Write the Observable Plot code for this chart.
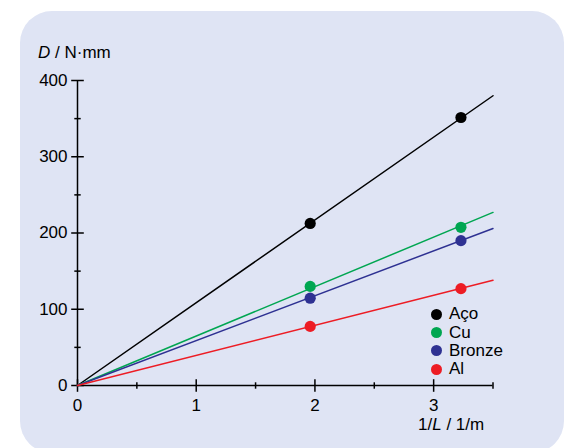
<!DOCTYPE html>
<html>
<head>
<meta charset="utf-8">
<script src="https://cdn.jsdelivr.net/npm/d3@7"></script>
<script src="https://cdn.jsdelivr.net/npm/@observablehq/plot@0.6"></script>
<style>
  html, body { margin: 0; padding: 0; background: #ffffff; }
  #wrap { position: relative; width: 570px; height: 448px; overflow: hidden;
          font-family: "Liberation Sans", Arial, sans-serif; color: #000; }
  #panel { position: absolute; left: 20px; top: 11px; width: 544px; height: 442px;
           border-radius: 32px; background: #dfe4f4; }
  #chart { position: absolute; left: 0; top: 0; }
  .title { position: absolute; font-size: 17px; line-height: 1; white-space: nowrap; }
  #legend { position: absolute; left: 431px; top: 305px; font-size: 17px; }
  .row { display: flex; align-items: center; height: 18.4px; }
  .sw { width: 11px; height: 11px; border-radius: 50%; margin-right: 7px; }
</style>
</head>
<body>
<div id="wrap">
  <div id="panel"></div>
  <div id="chart"></div>
  <div class="title" style="left:38px; top:43.5px;"><i>D</i> / N·mm</div>
  <div class="title" style="left:418px; top:415.5px;">1/<i>L</i> / 1/m</div>
  <div id="legend"></div>
</div>
<script>
// ---- data ----
const seriesNames = ["Aço", "Cu", "Bronze", "Al"];
const seriesColors = ["#000000", "#00a651", "#2e3192", "#ed1c24"];
const xMeasured = [1.96, 3.23];          // 1/L (1/m)
const acoValues = [212.5, 351.5];        // D (N·mm)
const cuValues = [130, 207.5];
const bronzeValues = [114.5, 190];
const alValues = [77.5, 127];
const fitX = [0, 3.5];                    // fitted lines run from origin to x = 3.5
const fitStartValues = [0, 0, 0, 0];
const fitEndValues = [380, 227, 206, 138];
const xMajorTicks = [0, 1, 2, 3];
const xMinorTicks = [0.5, 1.5, 2.5, 3.5];
const yMajorTicks = [0, 100, 200, 300, 400];
const yMinorTicks = [50, 150, 250, 350];

// ---- build tables ----
const seriesValues = [acoValues, cuValues, bronzeValues, alValues];
const points = seriesNames.flatMap((s, i) =>
  xMeasured.map((x, j) => ({ s, x, y: seriesValues[i][j] })));
const lines = seriesNames.flatMap((s, i) => [
  { s, x: fitX[0], y: fitStartValues[i] },
  { s, x: fitX[1], y: fitEndValues[i] }
]);

const vbar = { draw(ctx, size) { const r = Math.sqrt(size / Math.PI); ctx.moveTo(0, -r); ctx.lineTo(0, r); } };
const hbar = { draw(ctx, size) { const r = Math.sqrt(size / Math.PI); ctx.moveTo(-r, 0); ctx.lineTo(r, 0); } };

const xDomain = [0, xMinorTicks[xMinorTicks.length - 1]];
const yDomain = [0, yMajorTicks[yMajorTicks.length - 1]];

const chart = Plot.plot({
  width: 570,
  height: 448,
  marginLeft: 77,
  marginRight: 77.5,
  marginTop: 80,
  marginBottom: 63,
  x: { domain: xDomain, axis: null },
  y: { domain: yDomain, axis: null },
  color: { domain: seriesNames, range: seriesColors },
  style: { background: "transparent", fontFamily: "Liberation Sans, Arial, sans-serif", color: "#000", overflow: "visible" },
  marks: [
    // axis lines
    Plot.ruleY([yDomain[0]], { x1: xDomain[0], x2: xDomain[1], stroke: "#000", strokeWidth: 1.5 }),
    Plot.ruleX([xDomain[0]], { y1: yDomain[0], y2: yDomain[1], stroke: "#000", strokeWidth: 1.5 }),
    // crossing ticks
    Plot.dot(xMajorTicks, { x: d => d, y: () => 0, symbol: vbar, r: 6.3, stroke: "#000", fill: "none", strokeWidth: 1.5 }),
    Plot.dot(xMinorTicks, { x: d => d, y: () => 0, symbol: vbar, r: 3.2, stroke: "#000", fill: "none", strokeWidth: 1.5 }),
    Plot.dot(yMajorTicks, { x: () => 0, y: d => d, symbol: hbar, r: 6.3, stroke: "#000", fill: "none", strokeWidth: 1.5 }),
    Plot.dot(yMinorTicks, { x: () => 0, y: d => d, symbol: hbar, r: 3.2, stroke: "#000", fill: "none", strokeWidth: 1.5 }),
    // tick labels
    Plot.text(xMajorTicks, { x: d => d, y: () => 0, dy: 20, text: d => String(d), fontSize: 17, fill: "#000" }),
    Plot.text(yMajorTicks, { x: () => 0, y: d => d, dx: -10, textAnchor: "end", text: d => String(d), fontSize: 17, fill: "#000" }),
    // fitted lines and measured points
    Plot.line(lines, { x: "x", y: "y", z: "s", stroke: "s", strokeWidth: 1.5 }),
    Plot.dot(points, { x: "x", y: "y", fill: "s", r: 5.6 })
  ]
});
document.getElementById("chart").appendChild(chart);

// legend
const legend = document.getElementById("legend");
seriesNames.forEach((s, i) => {
  const row = document.createElement("div");
  row.className = "row";
  const sw = document.createElement("span");
  sw.className = "sw";
  sw.style.background = seriesColors[i];
  const t = document.createElement("span");
  t.textContent = s;
  row.appendChild(sw);
  row.appendChild(t);
  legend.appendChild(row);
});
</script>
</body>
</html>
